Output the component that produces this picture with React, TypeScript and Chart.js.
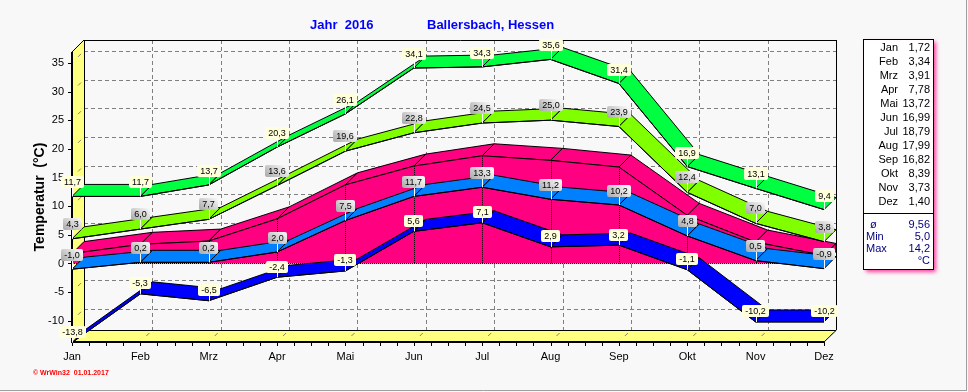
import React, { useEffect, useRef } from 'react';
import { Chart, registerables } from 'chart.js';

// ---------- data ----------
const months = ['Jan', 'Feb', 'Mrz', 'Apr', 'Mai', 'Jun', 'Jul', 'Aug', 'Sep', 'Okt', 'Nov', 'Dez'];
const absMax = [11.7, 11.7, 13.7, 20.3, 26.1, 34.1, 34.3, 35.6, 31.4, 16.9, 13.1, 9.4];
const meanMax = [4.3, 6.0, 7.7, 13.6, 19.6, 22.8, 24.5, 25.0, 23.9, 12.4, 7.0, 3.8];
const meanTemp = [1.72, 3.34, 3.91, 7.78, 13.72, 16.99, 18.79, 17.99, 16.82, 8.39, 3.73, 1.40];
const meanMin = [-1.0, 0.2, 0.2, 2.0, 7.5, 11.7, 13.3, 11.2, 10.2, 4.8, 0.5, -0.9];
const absMin = [-13.8, -5.3, -6.5, -2.4, -1.3, 5.6, 7.1, 2.9, 3.2, -1.1, -10.2, -10.2];
const yTicks = [-10, -5, 0, 5, 10, 15, 20, 25, 30, 35];
const yRange = [-13.7, 36.9];
const statNames = ['ø', 'Min', 'Max'];
const statValues = ['9,56', '5,0', '14,2'];
const statUnit = '°C';
const titleYear = 'Jahr  2016';
const titleStation = 'Ballersbach, Hessen';
const yTitle = 'Temperatur  (°C)';
const credit = '© WrWin32  01.01.2017';

// ---------- styles ----------
const FONT = 'Arial, "Liberation Sans", sans-serif';
const D = 12; // 3D depth offset
const SERIES = [
  { key: 'absMax', data: absMax, color: '#00FF40', box: 'plain', lift: 14 },
  { key: 'meanMax', data: meanMax, color: '#80FF00', box: 'silver', lift: 15 },
  { key: 'absMin', data: absMin, color: '#0000FF', box: 'plain', lift: 10.5 },
  { key: 'meanMin', data: meanMin, color: '#0080FF', box: 'silver', lift: 14.5 },
  { key: 'mean', data: meanTemp, color: '#FF0080', box: '', lift: 0 },
];

const fmt = (v: number, d = 1) => v.toFixed(d).replace('.', ',');

function line(ctx: CanvasRenderingContext2D, x0: number, y0: number, x1: number, y1: number) {
  ctx.beginPath();
  ctx.moveTo(x0, y0);
  ctx.lineTo(x1, y1);
  ctx.stroke();
}

function pts(chart: any, data: number[]) {
  const xs = chart.scales.x, ys = chart.scales.y;
  return data.map((v, i) => [xs.getPixelForValue(i), ys.getPixelForValue(v)]);
}

function ribbon(ctx: CanvasRenderingContext2D, p: number[][], color: string) {
  ctx.save();
  ctx.lineWidth = 1;
  ctx.strokeStyle = '#000';
  ctx.fillStyle = color;
  ctx.lineJoin = 'miter';
  for (let i = 0; i < p.length - 1; i++) {
    const [x0, y0] = p[i];
    const [x1, y1] = p[i + 1];
    ctx.beginPath();
    ctx.moveTo(x0, y0);
    ctx.lineTo(x1, y1);
    ctx.lineTo(x1 + D, y1 - D);
    ctx.lineTo(x0 + D, y0 - D);
    ctx.closePath();
    ctx.fill();
    ctx.stroke();
  }
  ctx.restore();
}

const depthPlugin: any = {
  id: 'depth3d',
  beforeDatasetsDraw(chart: any) {
    const ctx: CanvasRenderingContext2D = chart.ctx;
    const { left, right, top, bottom } = chart.chartArea;
    const xs = chart.scales.x, ys = chart.scales.y;
    ctx.save();
    // yellow walls
    ctx.fillStyle = '#FFFF80';
    ctx.beginPath();
    ctx.moveTo(left, top); ctx.lineTo(left + D, top - D); ctx.lineTo(left + D, bottom - D); ctx.lineTo(left, bottom);
    ctx.closePath(); ctx.fill();
    ctx.beginPath();
    ctx.moveTo(left, bottom); ctx.lineTo(left + D, bottom - D); ctx.lineTo(right + D, bottom - D); ctx.lineTo(right, bottom);
    ctx.closePath(); ctx.fill();
    // dashed grid on back plane
    ctx.strokeStyle = '#808080';
    ctx.lineWidth = 1;
    ctx.setLineDash([4, 3]);
    for (const v of yTicks) {
      const y = Math.round(ys.getPixelForValue(v) - D) + 0.5;
      line(ctx, left + D, y, right + D, y);
    }
    for (let i = 1; i < months.length - 1; i++) {
      const x = Math.round(xs.getPixelForValue(i) + D) + 0.5;
      line(ctx, x, top - D, x, bottom - D);
    }
    ctx.setLineDash([]);
    // little marks on walls
    for (const v of yTicks) {
      const y = ys.getPixelForValue(v);
      line(ctx, left + 6, y - 6, left + 9, y - 9);
    }
    for (let i = 0; i < months.length; i++) {
      const x = xs.getPixelForValue(i);
      line(ctx, x + 6, bottom - 6, x + 9, bottom - 9);
    }
    // outlines
    ctx.strokeStyle = '#000';
    ctx.lineWidth = 1;
    line(ctx, left + D, top - D + 0.5, right + D + 1, top - D + 0.5);
    line(ctx, right + D + 0.5, top - D, right + D + 0.5, bottom - D);
    line(ctx, left + D + 0.5, top - D, left + D + 0.5, bottom - D);
    line(ctx, left + D, bottom - D + 0.5, right + D, bottom - D + 0.5);
    line(ctx, left, top, left + D, top - D);
    line(ctx, right, bottom, right + D + 0.5, bottom - D);
    ctx.lineWidth = 2;
    line(ctx, left, top, left, bottom + 1);
    line(ctx, left - 1, bottom, right, bottom);
    // ticks
    ctx.lineWidth = 1;
    for (const v of yTicks) {
      const y = Math.round(ys.getPixelForValue(v)) + 0.5;
      line(ctx, left - 4, y, left, y);
    }
    for (let i = 0; i < months.length; i++) {
      for (let q = 0; q < 4; q++) {
        if (i === months.length - 1 && q > 0) break;
        const x = Math.round(xs.getPixelForValue(i + q / 4)) + 0.5;
        line(ctx, x, bottom, x, bottom + 4);
      }
    }
    ctx.restore();
  },
  beforeDatasetDraw(chart: any, args: any) {
    const s = SERIES[args.index];
    if (!s) return;
    const ctx: CanvasRenderingContext2D = chart.ctx;
    const p = pts(chart, s.data);
    ribbon(ctx, p, s.color);
    if (s.key === 'mean') {
      const y0 = chart.scales.y.getPixelForValue(0);
      const [xl, yl] = p[p.length - 1];
      ctx.save();
      ctx.fillStyle = s.color;
      ctx.strokeStyle = '#000';
      ctx.lineWidth = 1;
      ctx.beginPath();
      ctx.moveTo(xl, yl); ctx.lineTo(xl + D, yl - D); ctx.lineTo(xl + D, y0 - D); ctx.lineTo(xl, y0);
      ctx.closePath(); ctx.fill(); ctx.stroke();
      ctx.restore();
    }
  },
  afterDatasetDraw(chart: any, args: any) {
    const s = SERIES[args.index];
    if (!s || s.key !== 'mean') return;
    const ctx: CanvasRenderingContext2D = chart.ctx;
    const p = pts(chart, s.data);
    const y0 = Math.round(chart.scales.y.getPixelForValue(0)) + 0.5;
    ctx.save();
    ctx.strokeStyle = '#000';
    ctx.lineWidth = 1;
    ctx.setLineDash([1, 1]);
    for (let i = 1; i < p.length - 1; i++) {
      const x = Math.round(p[i][0]) + 0.5;
      line(ctx, x, p[i][1], x, y0);
    }
    line(ctx, p[0][0], y0, p[p.length - 1][0], y0);
    ctx.restore();
  },
  afterDatasetsDraw(chart: any) {
    const ctx: CanvasRenderingContext2D = chart.ctx;
    ctx.save();
    ctx.font = `9px ${FONT}`;
    ctx.textAlign = 'center';
    ctx.textBaseline = 'middle';
    for (const s of SERIES) {
      if (!s.box) continue;
      const p = pts(chart, s.data);
      s.data.forEach((v, i) => {
        const [x, y] = p[i];
        const t = fmt(v);
        const w = Math.round(ctx.measureText(t).width) + 6;
        const h = 12;
        const bx = Math.round(x - w / 2);
        const by = Math.round(y - s.lift - h / 2);
        ctx.strokeStyle = '#FFFFFF';
        ctx.lineWidth = 1;
        line(ctx, Math.round(x) + 0.5, by + h, Math.round(x) + 0.5, y);
        if (s.box === 'silver') {
          const g = ctx.createLinearGradient(bx, by + h, bx + w * 0.6, by - 4);
          g.addColorStop(0, '#A8A8A8');
          g.addColorStop(1, '#F6F6F6');
          ctx.fillStyle = g;
        } else {
          ctx.fillStyle = '#FFFFDC';
        }
        ctx.beginPath();
        (ctx as any).roundRect(bx, by, w, h, 2);
        ctx.fill();
        ctx.fillStyle = '#000';
        ctx.fillText(t, bx + w / 2, by + h / 2 + 0.5);
      });
    }
    ctx.restore();
  },
  afterDraw(chart: any) {
    const ctx: CanvasRenderingContext2D = chart.ctx;
    ctx.save();
    // title
    ctx.font = `bold 13px ${FONT}`;
    ctx.fillStyle = '#0000FF';
    ctx.textBaseline = 'middle';
    ctx.textAlign = 'left';
    ctx.fillText(titleYear, 310, 25);
    ctx.fillText(titleStation, 427, 25);
    // legend / stats box
    const bx = 863, by = 39, bw = 70, bh = 230;
    ctx.save();
    ctx.shadowColor = 'rgba(255,0,128,0.75)';
    ctx.shadowBlur = 4;
    ctx.shadowOffsetX = 3;
    ctx.shadowOffsetY = 3;
    ctx.fillStyle = '#FFFFFF';
    ctx.fillRect(bx, by, bw, bh);
    ctx.restore();
    ctx.strokeStyle = '#000';
    ctx.lineWidth = 1;
    ctx.strokeRect(bx + 0.5, by + 0.5, bw, bh);
    line(ctx, bx, 213.5, bx + bw, 213.5);
    ctx.font = `11px ${FONT}`;
    ctx.fillStyle = '#000';
    ctx.textAlign = 'right';
    months.forEach((m, i) => {
      ctx.fillText(m, 898, 48 + 14 * i);
      ctx.fillText(fmt(meanTemp[i], 2), 930, 48 + 14 * i);
    });
    ctx.fillStyle = '#000080';
    statNames.forEach((n, k) => {
      ctx.textAlign = 'left';
      ctx.fillText(n, k === 0 ? 870 : 866, 225 + 12 * k);
      ctx.textAlign = 'right';
      ctx.fillText(statValues[k], 930, 225 + 12 * k);
    });
    ctx.fillText(statUnit, 930, 261);
    // credit
    ctx.font = `bold 7px ${FONT}`;
    ctx.fillStyle = '#FF0000';
    ctx.textAlign = 'left';
    ctx.fillText(credit, 33, 373);
    // window edge
    ctx.strokeStyle = '#A0A0A0';
    line(ctx, 966.5, 0, 966.5, 391);
    line(ctx, 0, 390.5, 967, 390.5);
    ctx.restore();
  },
};

Chart.register(depthPlugin, ...registerables);
Chart.defaults.font.family = FONT;

export default function App() {
  const ref = useRef<HTMLCanvasElement>(null);
  useEffect(() => {
    const chart = new Chart(ref.current as HTMLCanvasElement, {
      type: 'line',
      data: {
        labels: months,
        datasets: SERIES.map((s) => ({
          label: s.key,
          data: s.data,
          borderColor: '#000000',
          borderWidth: 1,
          pointRadius: 0,
          tension: 0,
          clip: false,
          fill: s.key === 'mean' ? 'origin' : false,
          backgroundColor: s.color,
        })) as any,
      },
      options: {
        responsive: false,
        animation: false,
        devicePixelRatio: 1,
        events: [],
        layout: { padding: { left: 0, top: 52, right: 144, bottom: 0 } },
        plugins: {
          legend: { display: false },
          tooltip: { enabled: false },
          title: { display: false },
        },
        scales: {
          x: {
            type: 'category',
            offset: false,
            grid: { display: false, drawTicks: false },
            border: { display: false },
            ticks: { autoSkip: false, maxRotation: 0, padding: 8, color: '#000', font: { size: 11 } },
            afterFit: (s: any) => { s.height = 50; },
          },
          y: {
            type: 'linear',
            min: yRange[0],
            max: yRange[1],
            grid: { display: false, drawTicks: false },
            border: { display: false },
            afterBuildTicks: (s: any) => { s.ticks = yTicks.map((v) => ({ value: v })); },
            ticks: { padding: 8, color: '#000', font: { size: 11 }, callback: (v: any) => String(v) },
            title: {
              display: true,
              text: yTitle,
              color: '#000',
              font: { size: 14, weight: 'bold' },
              padding: { top: 32, bottom: 0 },
            },
            afterFit: (s: any) => { s.width = 72; },
          },
        },
      } as any,
    });
    return () => chart.destroy();
  }, []);
  return (
    <div style={{ position: 'fixed', left: 0, top: 0, width: 968, height: 392, background: '#F8F8F8', overflow: 'hidden' }}>
      <canvas ref={ref} width={968} height={392} style={{ display: 'block', width: 968, height: 392 }} />
    </div>
  );
}
